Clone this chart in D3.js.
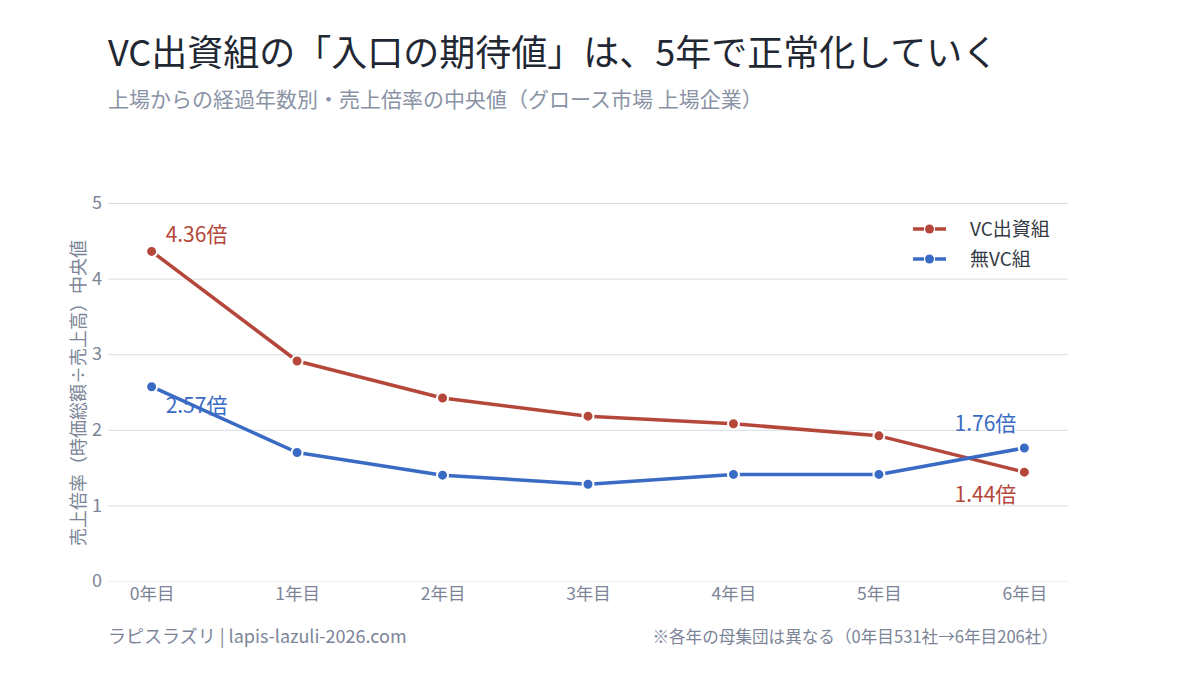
<!DOCTYPE html>
<html>
<head>
<meta charset="utf-8">
<script src="https://cdn.jsdelivr.net/npm/d3@7"></script>
<style>
  body { margin: 0; background: #fff; }
  svg { font-family: "Noto Sans CJK JP", "Noto Sans", sans-serif; }
</style>
</head>
<body>
<svg id="chart" width="1200" height="675" viewBox="0 0 1200 675"></svg>
<script>
// --- data ---
const years = ["0年目", "1年目", "2年目", "3年目", "4年目", "5年目", "6年目"];
const vcValues = [4.36, 2.91, 2.42, 2.18, 2.08, 1.92, 1.44];
const noVcValues = [2.57, 1.70, 1.40, 1.28, 1.41, 1.41, 1.76];
const yTicks = [0, 1, 2, 3, 4, 5];

const RED = "#b5473a", BLUE = "#3a6bc4", GREY = "#7c8598";

const svg = d3.select("#chart");
const plot = { left: 108, right: 1068, top: 203, bottom: 581 };

const x = d3.scalePoint().domain(years).range([plot.left, plot.right]).padding(0.3);
const y = d3.scaleLinear().domain([0, 5]).range([plot.bottom, plot.top]);

// title
svg.append("text").attr("x", 108).attr("y", 66)
    .attr("font-size", 36).attr("fill", "#222833").text("VC出資組の「入口の期待値」は、5年で正常化していく");
svg.append("text").attr("x", 108).attr("y", 107)
    .attr("font-size", 21).attr("fill", "#8a93a5").text("上場からの経過年数別・売上倍率の中央値（グロース市場 上場企業）");

// grid + y axis
const yAxis = svg.append("g").attr("transform", `translate(${plot.left},0)`)
    .call(d3.axisLeft(y).tickValues(yTicks).tickFormat(d3.format("d"))
        .tickSize(-(plot.right - plot.left)).tickPadding(6));
yAxis.select(".domain").remove();
yAxis.selectAll(".tick line").attr("stroke", d => d === 0 ? "#eef0f4" : "#d8dce5");
yAxis.selectAll(".tick text").attr("font-size", 18).attr("fill", GREY)
    .attr("font-family", "'Noto Sans CJK JP', sans-serif");

// x axis
const xAxis = svg.append("g").attr("transform", `translate(0,${plot.bottom})`)
    .call(d3.axisBottom(x).tickSize(0).tickPadding(7));
xAxis.select(".domain").remove();
xAxis.selectAll(".tick text").attr("font-size", 17.5).attr("fill", GREY)
    .attr("font-family", "'Noto Sans CJK JP', sans-serif");

// y axis title
svg.append("text").attr("transform", `translate(85,${(plot.top + plot.bottom) / 2 + 1}) rotate(-90)`)
    .attr("text-anchor", "middle").attr("font-size", 18).attr("fill", GREY)
    .text("売上倍率（時価総額÷売上高）中央値");

// lines
const line = d3.line().x((d, i) => x(years[i])).y(d => y(d));
const series = [
    { name: "VC出資組", values: vcValues, color: RED },
    { name: "無VC組", values: noVcValues, color: BLUE },
];

series.forEach(s => {
    svg.append("path").datum(s.values).attr("d", line)
        .attr("fill", "none").attr("stroke", s.color).attr("stroke-width", 3.5)
        .attr("stroke-linejoin", "round");
    svg.append("g").selectAll("circle").data(s.values).enter().append("circle")
        .attr("cx", (d, i) => x(years[i])).attr("cy", d => y(d)).attr("r", 5.5)
        .attr("fill", s.color).attr("stroke", "#fff").attr("stroke-width", 2);
});

// value labels
const labels = [
    { value: vcValues[0], i: 0, color: RED, dx: 14, dy: -9, anchor: "start" },
    { value: noVcValues[0], i: 0, color: BLUE, dx: 14, dy: 26, anchor: "start" },
    { value: noVcValues[6], i: 6, color: BLUE, dx: -8, dy: -17, anchor: "end" },
    { value: vcValues[6], i: 6, color: RED, dx: -8, dy: 30, anchor: "end" },
];
svg.append("g").selectAll("text").data(labels).enter().append("text")
    .attr("x", d => x(years[d.i]) + d.dx).attr("y", d => y(d.value) + d.dy)
    .attr("text-anchor", d => d.anchor).attr("font-size", 21).attr("fill", d => d.color)
    .text(d => d.value.toFixed(2) + "倍");

// legend
const legend = svg.append("g").attr("transform", "translate(913,229)");
series.forEach((s, k) => {
    const g = legend.append("g").attr("transform", `translate(0,${k * 30})`);
    [[0, 11], [22, 33]].forEach(([a, b]) => {
        g.append("line").attr("x1", a).attr("x2", b).attr("y1", 0).attr("y2", 0)
            .attr("stroke", s.color).attr("stroke-width", 3.5);
    });
    g.append("circle").attr("cx", 16.5).attr("cy", 0).attr("r", 4.5).attr("fill", s.color);
    g.append("text").attr("x", 57).attr("y", 6.5).attr("font-size", 19).attr("fill", "#333a45").text(s.name);
});

// footer
svg.append("text").attr("x", 108).attr("y", 643).attr("font-size", 18).attr("fill", GREY)
    .text("ラピスラズリ | lapis-lazuli-2026.com");
svg.append("text").attr("x", 1058).attr("y", 643).attr("text-anchor", "end").attr("font-size", 16.6).attr("fill", GREY)
    .text("※各年の母集団は異なる（0年目531社→6年目206社）");
</script>
</body>
</html>
